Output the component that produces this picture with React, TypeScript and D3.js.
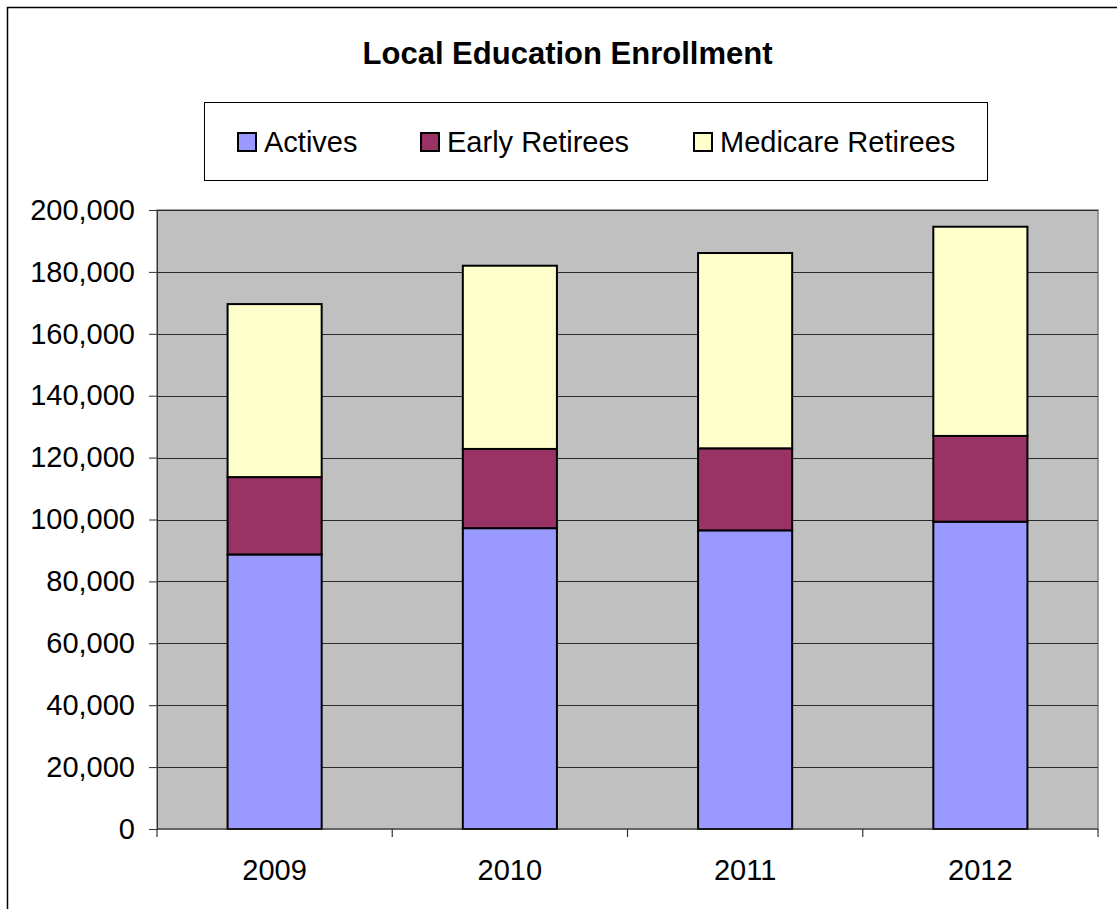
import { useEffect, useRef } from "react";
import * as d3 from "d3";

const years: string[] = ["2009", "2010", "2011", "2012"];
const seriesNames: string[] = ["Actives", "Early Retirees", "Medicare Retirees"];
const actives: number[] = [88700, 97200, 96500, 99300];
const earlyRetirees: number[] = [25000, 25600, 26500, 27700];
const medicareRetirees: number[] = [55900, 59200, 63100, 67600];
const yTicks: number[] = [0, 20000, 40000, 60000, 80000, 100000, 120000, 140000, 160000, 180000, 200000];
const seriesColors: string[] = ["#9999FF", "#993366", "#FFFFCC"];

const FONT = "'Liberation Sans', Arial, sans-serif";

function App() {
  const yAxisRef = useRef<SVGGElement>(null);

  const margin = { top: 210, right: 1098, bottom: 829, left: 157 };

  const rows = years.map((year, i) => ({
    year,
    Actives: actives[i],
    "Early Retirees": earlyRetirees[i],
    "Medicare Retirees": medicareRetirees[i],
  }));
  const stacked = d3.stack<any>().keys(seriesNames)(rows);

  const xScale = d3
    .scaleBand<string>()
    .domain(years)
    .range([margin.left, margin.right])
    .paddingInner(0.6)
    .paddingOuter(0.3);
  const yScale = d3
    .scaleLinear()
    .domain([0, 200000])
    .range([margin.bottom, margin.top]);
  const color = d3.scaleOrdinal<string, string>().domain(seriesNames).range(seriesColors);

  const boundaries = d3.range(years.length + 1).map((i) => margin.left + i * xScale.step());

  useEffect(() => {
    if (!yAxisRef.current) return;
    const g = d3.select(yAxisRef.current);
    g.selectAll("*").remove();
    g.call(
      d3
        .axisLeft(yScale)
        .tickValues(yTicks)
        .tickFormat((d) => d3.format(",")(d as number))
        .tickSize(8)
        .tickPadding(14)
    );
    g.select(".domain").attr("stroke", "#333").attr("stroke-width", 1);
    g.selectAll(".tick line").attr("stroke", "#333");
    g.selectAll(".tick text")
      .attr("font-family", FONT)
      .attr("font-size", 29)
      .attr("fill", "#000");
  }, []);

  const legendItems = [
    { name: seriesNames[0], x: 238 },
    { name: seriesNames[1], x: 421 },
    { name: seriesNames[2], x: 694 },
  ];

  return (
    <svg
      width={1117}
      height={909}
      style={{ position: "absolute", left: 0, top: 0, background: "#fff" }}
    >
      <rect x={7.5} y={7.5} width={1130} height={920} fill="#fff" stroke="#000" strokeWidth={1.5} />

      <text
        x={567.5}
        y={64}
        textAnchor="middle"
        fontFamily={FONT}
        fontWeight="bold"
        fontSize={31}
        fill="#000"
      >
        Local Education Enrollment
      </text>

      <rect x={204.5} y={102.5} width={783} height={78} fill="#fff" stroke="#000" strokeWidth={1} />
      {legendItems.map((item) => (
        <g key={item.name}>
          <rect
            x={item.x}
            y={133}
            width={18}
            height={18}
            fill={color(item.name)}
            stroke="#000"
            strokeWidth={2}
          />
          <text x={item.x + 26} y={152} fontFamily={FONT} fontSize={29} fill="#000">
            {item.name}
          </text>
        </g>
      ))}

      <rect
        x={margin.left}
        y={margin.top}
        width={margin.right - margin.left}
        height={margin.bottom - margin.top}
        fill="#C0C0C0"
        stroke="#808080"
        strokeWidth={1.5}
      />
      {yTicks
        .filter((t) => t !== 0)
        .map((t) => (
          <line
            key={t}
            x1={margin.left}
            x2={margin.right}
            y1={Math.round(yScale(t)) + 0.5}
            y2={Math.round(yScale(t)) + 0.5}
            stroke="#2a2a2a"
            strokeWidth={1.2}
          />
        ))}

      {stacked.map((layer) => (
        <g key={layer.key} fill={color(layer.key)}>
          {layer.map((d, i) => (
            <rect
              key={years[i]}
              x={xScale(years[i])}
              y={yScale(d[1])}
              width={xScale.bandwidth()}
              height={yScale(d[0]) - yScale(d[1])}
              stroke="#000"
              strokeWidth={2}
            />
          ))}
        </g>
      ))}

      <g ref={yAxisRef} transform={`translate(${margin.left},0)`} />

      <line
        x1={margin.left}
        x2={margin.right}
        y1={margin.bottom}
        y2={margin.bottom}
        stroke="#333"
        strokeWidth={1.2}
      />
      {boundaries.map((bx, i) => (
        <line key={i} x1={bx} x2={bx} y1={margin.bottom} y2={margin.bottom + 8} stroke="#333" strokeWidth={1.2} />
      ))}
      {years.map((year) => (
        <text
          key={year}
          x={(xScale(year) as number) + xScale.bandwidth() / 2}
          y={880}
          textAnchor="middle"
          fontFamily={FONT}
          fontSize={29}
          fill="#000"
        >
          {year}
        </text>
      ))}
    </svg>
  );
}

export default App;
